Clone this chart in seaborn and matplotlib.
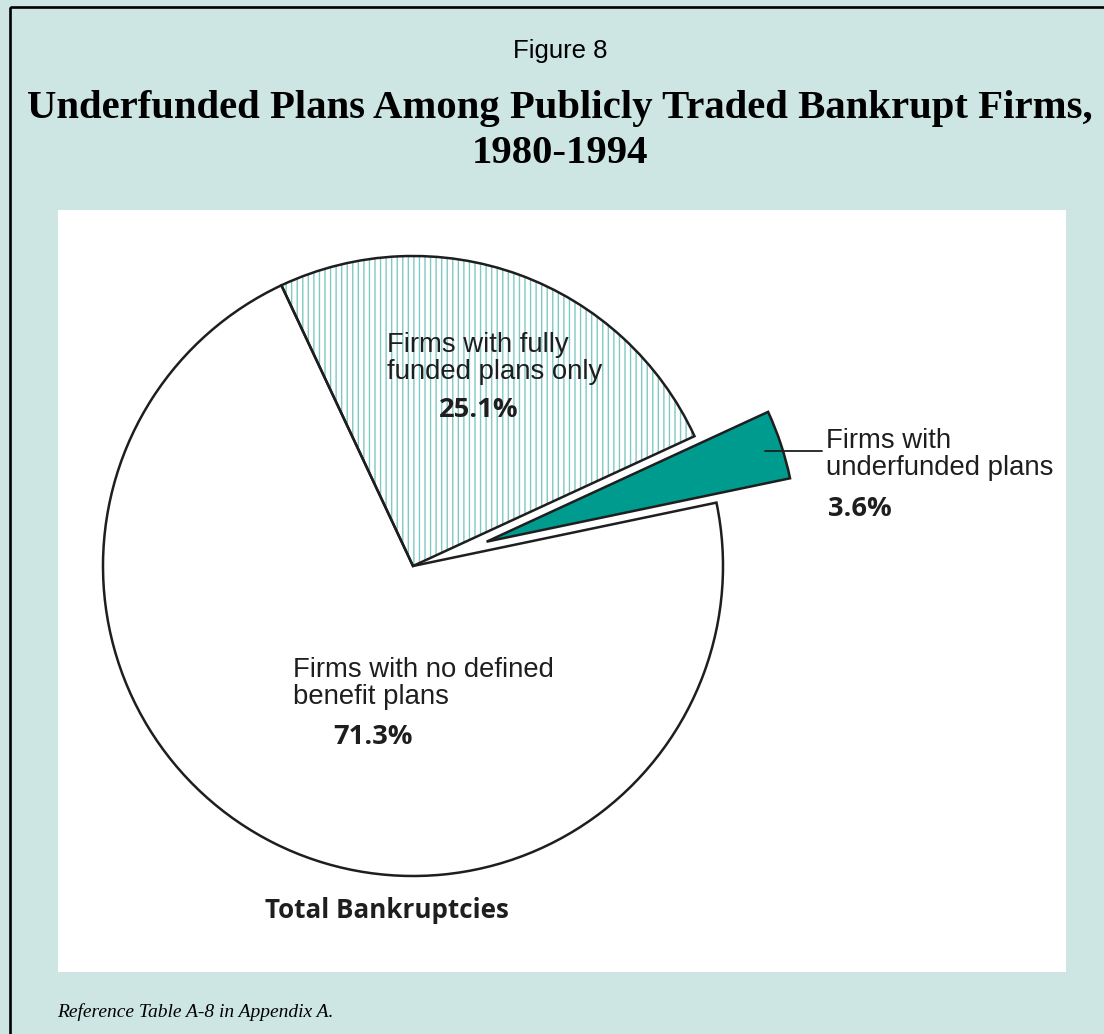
import matplotlib
matplotlib.use("Agg")
import matplotlib.pyplot as plt
import seaborn as sns
from matplotlib.patches import Rectangle

# Data (share of total bankruptcies, %)
categories = ["Firms with\nunderfunded plans",
              "Firms with fully\nfunded plans only",
              "Firms with no defined\nbenefit plans"]
shares = [3.6, 25.1, 71.3]
slice_colors = ["#009b8f", "#ffffff", "#ffffff"]
slice_hatches = [None, "|||", None]
explode = [0.25, 0, 0]

title = "Underfunded Plans Among Publicly Traded Bankrupt Firms,\n1980-1994"
fig_label = "Figure 8"
pie_caption = "Total Bankruptcies"
footnote = "Reference Table A-8 in Appendix A."

sns.set_theme(style="white")
plt.rcParams["font.family"] = ["Liberation Sans", "DejaVu Sans"]
plt.rcParams["hatch.linewidth"] = 1.0

W, H = 1104, 1034
bg = "#cde6e3"
ink = "#1e1e1e"

fig = plt.figure(figsize=(W / 100, H / 100), dpi=100, facecolor=bg)

# Back axes in pixel coordinates (y down): white panel and border
bax = fig.add_axes([0, 0, 1, 1])
bax.set_xlim(0, W)
bax.set_ylim(H, 0)
bax.axis("off")
bax.add_patch(Rectangle((58, 210), 1008, 762, facecolor="white", edgecolor="none"))
bax.add_patch(Rectangle((10, 7), 1200, 1200, facecolor="none", edgecolor="black", lw=1.9))

# Pie axes covering the white panel, data units = pie radius
cx, cy, r = 413, 566, 310
left, right, top, bottom = 58, 1066, 210, 972
pax = fig.add_axes([left / W, 1 - bottom / H, (right - left) / W, (bottom - top) / H])

wedges, _ = pax.pie(shares, colors=slice_colors, explode=explode, startangle=11.8,
                    wedgeprops=dict(linewidth=0))
for w, h in zip(wedges, slice_hatches):
    if h:
        w.set_hatch(h)
        w.set_edgecolor("#80c9c4")
pax.pie(shares, explode=explode, startangle=11.8,
        wedgeprops=dict(fill=False, edgecolor=ink, linewidth=1.8))
pax.set_xlim((left - cx) / r, (right - cx) / r)
pax.set_ylim((cy - bottom) / r, (cy - top) / r)
pax.set_aspect("auto")
pax.axis("off")

# Front axes for all texts, same pixel coordinates as the back one
tax = fig.add_axes([0, 0, 1, 1])
tax.set_xlim(0, W)
tax.set_ylim(H, 0)
tax.axis("off")

tax.text(560, 58, fig_label, ha="center", va="baseline", fontsize=18.5, color="black")
tax.text(560, 163, title, ha="center", va="baseline", fontsize=29.3,
         family="Liberation Serif", weight="bold", color="black", linespacing=1.3)
tax.text(57, 1012, footnote, ha="left", va="center", fontsize=14,
         family="Liberation Serif", style="italic", color="black")

# Slice labels: left aligned, y is the baseline of the last line
label_pos = [(826, 475), (387, 379), (293, 704)]
pct_pos = [(828, 516), (439, 417), (333, 744)]
for name, val, (lx, ly), (px, py) in zip(categories, shares, label_pos, pct_pos):
    tax.text(lx, ly, name, ha="left", va="baseline", fontsize=19.8, color=ink,
             linespacing=1.05)
    tax.text(px, py, f"{val}%", ha="left", va="baseline", fontsize=19.7,
             family="Open Sans", weight="bold", color=ink)

# Leader line for the small exploded slice
tax.plot([765, 822], [451, 451], color=ink, lw=1.3)

tax.text(265, 918, pie_caption, ha="left", va="baseline", fontsize=18.7,
         family="Open Sans", weight="bold", color=ink)

fig.savefig("out.png", dpi=100, facecolor=bg)
